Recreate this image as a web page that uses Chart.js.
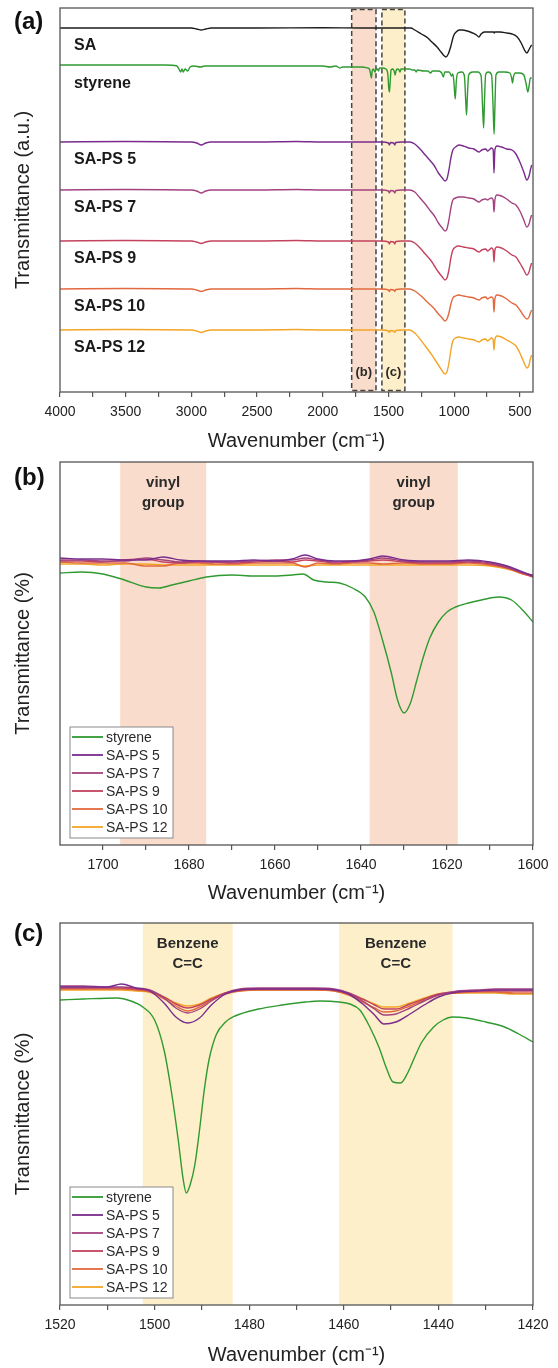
<!DOCTYPE html>
<html>
<head>
<meta charset="utf-8">
<script src="https://cdn.jsdelivr.net/npm/chart.js@4.4.1/dist/chart.umd.min.js"></script>
<style>
  html, body { margin: 0; padding: 0; background: #fff; }
  .panel { position: relative; width: 558px; height: 456px; }
</style>
</head>
<body>
<div class="panel"><canvas id="chartA"></canvas></div>
<div class="panel"><canvas id="chartB"></canvas></div>
<div class="panel"><canvas id="chartC"></canvas></div>
<script>
// ---- panel (a): full spectra, 4000-400 cm-1, values relative to each baseline ----
const namesA = ["SA", "styrene", "SA-PS 5", "SA-PS 7", "SA-PS 9", "SA-PS 10", "SA-PS 12"];
const offsetsA = [364, 326, 250, 202, 151, 103, 62];

const wnSA = [4000, 3500, 3000, 2960, 2925, 2890, 2850, 2500, 2000, 1700, 1500, 1400, 1330, 1300, 1250, 1200, 1170, 1130, 1100, 1075, 1063, 1045, 1025, 1005, 985, 960, 940, 900, 860, 830, 812, 795, 770, 740, 700, 695, 690, 650, 600, 560, 520, 490, 465, 447, 432, 420, 410];
const tSA = [0, 0, 0, -1, -2, -1, 0, 0, 0.3, 0, 0, 0, 0, -2, -6, -10, -14, -19, -24, -28, -29, -26, -18, -8, -4, -2, -2, -3, -5, -7, -9, -6, -4, -4, -4, -5, -4, -4, -5, -6, -9, -15, -22, -25, -22, -19, -17];

const wnSty = [4000, 3500, 3200, 3110, 3095, 3082, 3072, 3062, 3048, 3028, 3010, 2980, 2930, 2900, 2500, 2000, 1945, 1900, 1870, 1850, 1800, 1750, 1700, 1660, 1645, 1636, 1630, 1624, 1615, 1603, 1597, 1583, 1576, 1568, 1545, 1520, 1505, 1498, 1493, 1488, 1480, 1465, 1455, 1449, 1443, 1430, 1419, 1412, 1405, 1380, 1340, 1320, 1300, 1289, 1280, 1230, 1200, 1180, 1165, 1120, 1095, 1082, 1072, 1040, 1028, 1020, 1010, 1002, 992, 983, 972, 940, 922, 912, 906, 900, 890, 860, 820, 795, 784, 776, 770, 760, 740, 715, 704, 696, 690, 682, 660, 620, 575, 563, 556, 549, 535, 500, 470, 452, 440, 430, 420, 410];
const tSty = [1, 1, 1, 0, -3, -6, -3, -6, -3, -5, -1, 0, -1, 0, 0, 0, -1, 0, -2, -1, -1, -1, -1, -2, -3, -8, -12, -5, -3, -6, -4, -3, -5, -2, -2, -3, -8, -22, -26, -18, -4, -3, -6, -9, -5, -3, -4, -6, -3, -3, -3, -4, -4, -6, -4, -5, -5, -7, -5, -5, -7, -11, -6, -6, -8, -10, -8, -16, -33, -14, -7, -6, -10, -35, -49, -32, -9, -6, -6, -10, -40, -62, -38, -8, -6, -9, -40, -68, -42, -9, -6, -6, -7, -12, -17, -11, -7, -7, -9, -18, -26, -20, -12, -12];

const wnPSa = [4000, 3500, 3000, 2960, 2925, 2890, 2850, 2500, 2200, 2000, 1700, 1550, 1500, 1493, 1485, 1460, 1452, 1444, 1400, 1340, 1300, 1260, 1220, 1180, 1150, 1120, 1090, 1070, 1055, 1040, 1025, 1010, 990, 964, 930, 890, 850, 812, 790, 760, 745, 735, 715, 703, 697, 690, 675, 640, 600, 560, 530, 500, 470, 447, 430, 420, 410];
const ps5A = [0, 0.5, 0, -1, -3, -1, 0, 0, 0.5, 0, 0, 0, -1, -3, -0.5, -1, -3, -0.5, 0, 0, -2, -7, -13, -19, -24, -31, -36, -39, -37, -28, -16, -8, -5, -3, -4, -6, -7, -10, -8, -7, -9, -8, -6, -8, -31, -8, -4, -5, -7, -8, -12, -20, -30, -38, -34, -28, -23];
const ps7A = [0, 0.5, 0, -1, -3, -1, 0, 0, 0.5, 0, 0, 0, -1, -3, -0.5, -1, -3, -0.5, 0, 0, -2, -8, -14, -21, -26, -33, -38, -41, -39, -30, -18, -10, -8, -7, -7, -8, -9, -12, -10, -9, -10, -9, -8, -10, -22, -10, -5, -6, -9, -13, -15, -21, -30, -37, -34, -29, -25];
const ps9A = [0, 0.5, 0, -1, -2.5, -1, 0, 0, 0.5, 0, 0, 0, -1, -3, -0.5, -1, -3, -0.5, 0, 0, -2, -7, -13, -19, -25, -31, -36, -39, -37, -29, -17, -9, -6, -5, -6, -7, -8, -11, -9, -8, -10, -9, -7, -9, -21, -9, -6, -7, -10, -14, -16, -22, -29, -34, -31, -26, -22];
const ps10A = [0, 0.5, 0, -1, -2.5, -1, 0, 0, 0.5, 0, 0, 0, -1, -2.5, -0.5, -1, -2.5, -0.5, 0, 0, -2, -6, -11, -16, -20, -25, -29, -32, -30, -24, -15, -9, -7, -6, -7, -8, -9, -11, -9, -8, -10, -9, -8, -10, -23, -10, -6, -7, -10, -14, -16, -21, -27, -30, -28, -24, -21];
const ps12A = [0, 0.5, 0, -1, -2.5, -1, 0, 0, 0.5, 0, 0, 0, -1, -2.5, -0.5, -1, -2.5, -0.5, 0, 0, -3, -9, -16, -23, -29, -35, -41, -44, -42, -33, -20, -11, -8, -7, -8, -9, -10, -12, -10, -9, -11, -10, -8, -10, -20, -10, -6, -7, -10, -13, -16, -23, -32, -38, -35, -29, -25];

const ticksA = [4000, 3750, 3500, 3250, 3000, 2750, 2500, 2250, 2000, 1750, 1500, 1250, 1000, 750, 500];
const tickLabelsA = [4000, 3500, 3000, 2500, 2000, 1500, 1000, 500];
const zoomBoxesA = [[1780, 1595], [1550, 1375]];

// ---- panel (b): 1710-1600 cm-1 ----
const wnStyB = [1710, 1705, 1700, 1695, 1690, 1687, 1684, 1680, 1676, 1670, 1665, 1660, 1656, 1653.5, 1651, 1648, 1645, 1642, 1639, 1637, 1635, 1633, 1631.5, 1630, 1628.5, 1627, 1625.5, 1624, 1622, 1620, 1618, 1615, 1612, 1608, 1605, 1602, 1600];
const tStyB = [272, 273, 271, 265, 258, 257, 260, 264, 268, 270, 269, 269, 270, 271, 265, 263, 262, 257, 248, 233, 205, 173, 145, 132, 142, 165, 188, 207, 223, 233, 238, 242, 245, 248, 245, 233, 223];
const wnPSb = [1710, 1705, 1700, 1695, 1690, 1686, 1682, 1678, 1674, 1670, 1665, 1660, 1656, 1653, 1650, 1646, 1642, 1638, 1635, 1630, 1625, 1620, 1615, 1610, 1606, 1603, 1600];
const ps5B = [287, 286, 286, 285, 285, 288, 285, 284, 284, 284, 285, 284, 286, 290, 286, 284, 284, 286, 289, 285, 284, 284, 285, 283, 279, 274, 269];
const ps7B = [285, 285, 284, 284, 287, 285, 283, 284, 283, 283, 284, 285, 285, 287, 285, 283, 284, 285, 287, 284, 283, 283, 284, 282, 278, 273, 270];
const ps9B = [284, 284, 283, 285, 286, 283, 282, 283, 283, 282, 283, 284, 283, 285, 284, 282, 283, 284, 285, 283, 282, 282, 283, 281, 277, 273, 268];
const ps10B = [283, 282, 282, 282, 279, 279, 282, 282, 281, 281, 282, 282, 282, 278, 282, 281, 282, 282, 281, 282, 281, 281, 282, 280, 277, 272, 268];
const ps12B = [281, 281, 280, 281, 281, 280, 280, 280, 280, 280, 280, 280, 280, 279, 280, 280, 280, 280, 280, 280, 280, 280, 280, 279, 276, 272, 269];
const ticksB = [1700, 1690, 1680, 1670, 1660, 1650, 1640, 1630, 1620, 1610, 1600];
const tickLabelsB = [1700, 1680, 1660, 1640, 1620, 1600];
const bandsB = [[1696, 1676], [1638, 1617.5]];

// ---- panel (c): 1520-1420 cm-1 ----
const wnStyC = [1520, 1515, 1508, 1505, 1502.5, 1500, 1498, 1496.5, 1495, 1494, 1493.3, 1492.5, 1491.5, 1490.5, 1489.5, 1488.5, 1487, 1485, 1483, 1478, 1473, 1468, 1465, 1461, 1458.7, 1456.6, 1454.5, 1452.5, 1451, 1449.6, 1448, 1446.5, 1445, 1443.5, 1441, 1439, 1437, 1434, 1430, 1426, 1423, 1420];
const tStyC = [305, 306, 307, 304, 298, 285, 255, 215, 165, 127, 112, 120, 140, 175, 215, 245, 270, 283, 289, 296, 300, 303, 304, 303, 301, 295, 278, 257, 237, 223, 222, 232, 248, 263, 278, 285, 288, 287, 283, 278, 271, 263];
const wnPSc = [1520, 1515, 1510, 1507, 1504, 1501, 1498, 1495.5, 1493, 1490.5, 1488, 1485, 1482, 1478, 1472, 1466, 1462, 1459, 1456, 1453.5, 1451.5, 1449, 1446, 1443, 1440, 1436, 1432, 1428, 1424, 1420];
const ps5C = [318, 318, 318, 321, 317, 314, 302, 288, 282, 287, 300, 311, 315, 316, 316, 316, 315, 311, 301, 290, 281, 283, 291, 300, 308, 313, 314, 315, 315, 315];
const ps7C = [319, 319, 318, 318, 317, 315, 307, 297, 292, 296, 304, 312, 316, 317, 317, 317, 316, 312, 304, 296, 290, 291, 297, 304, 310, 314, 315, 316, 316, 316];
const ps9C = [317, 317, 317, 317, 316, 314, 308, 301, 297, 300, 306, 312, 315, 316, 316, 316, 315, 312, 306, 300, 296, 296, 301, 306, 311, 313, 314, 314, 314, 314];
const ps10C = [316, 316, 316, 316, 315, 313, 306, 299, 294, 298, 305, 311, 314, 315, 315, 315, 314, 310, 303, 297, 293, 294, 299, 305, 310, 312, 313, 313, 312, 312];
const ps12C = [315, 315, 315, 315, 314, 313, 308, 302, 299, 301, 307, 312, 314, 315, 315, 315, 314, 311, 306, 301, 298, 298, 302, 307, 311, 312, 312, 312, 311, 311];
const ticksC = [1520, 1510, 1500, 1490, 1480, 1470, 1460, 1450, 1440, 1430, 1420];
const tickLabelsC = [1520, 1500, 1480, 1460, 1440, 1420];
const bandsC = [[1502.5, 1483.5], [1461, 1437]];

const COLORS = {
  "SA": "#1c1c1c",
  "styrene": "#2f9a30",
  "SA-PS 5": "#7a2b8c",
  "SA-PS 7": "#a3427f",
  "SA-PS 9": "#c4425e",
  "SA-PS 10": "#e2693e",
  "SA-PS 12": "#f2a526",
};
const SALMON = "#f9dccb";
const CREAM = "#fdefca";
const FONT = "'Liberation Sans', Arial, Helvetica, sans-serif";

Chart.defaults.font.family = FONT;
Chart.defaults.color = "#222";

function pts(xs, ys, offset = 0) {
  return xs.map((x, i) => ({ x, y: ys[i] + offset }));
}

function line(label, data) {
  return {
    label,
    data,
    borderColor: COLORS[label],
    backgroundColor: COLORS[label],
    borderWidth: 1.4,
    pointRadius: 0,
    pointHoverRadius: 0,
    fill: false,
    cubicInterpolationMode: "monotone",
  };
}

function decorations(cfg) {
  return {
    id: "decorations",
    beforeDatasetsDraw(chart) {
      const { ctx, chartArea: a } = chart;
      const x = chart.scales.x;
      ctx.save();
      (cfg.bands || []).forEach((b) => {
        const x1 = x.getPixelForValue(b.from);
        const x2 = x.getPixelForValue(b.to);
        ctx.fillStyle = b.color;
        ctx.fillRect(Math.min(x1, x2), a.top, Math.abs(x2 - x1), a.bottom - a.top);
        if (b.dashed) {
          ctx.setLineDash([5, 3]);
          ctx.strokeStyle = "#444";
          ctx.lineWidth = 1.5;
          ctx.strokeRect(Math.min(x1, x2), a.top + 1.5, Math.abs(x2 - x1), a.bottom - a.top - 3);
          ctx.setLineDash([]);
        }
      });
      ctx.restore();
    },
    afterDatasetsDraw(chart) {
      const { ctx, chartArea: a } = chart;
      const x = chart.scales.x;
      const y = chart.scales.y;
      ctx.save();

      // frame
      ctx.strokeStyle = "#555";
      ctx.lineWidth = 1.3;
      ctx.strokeRect(a.left, a.top, a.right - a.left, a.bottom - a.top);

      // band texts
      ctx.fillStyle = "#2a2a2a";
      ctx.textAlign = "center";
      ctx.textBaseline = "middle";
      (cfg.bands || []).forEach((b) => {
        const cx = (x.getPixelForValue(b.from) + x.getPixelForValue(b.to)) / 2;
        ctx.font = `bold ${b.size}px ${FONT}`;
        b.text.forEach((t, i) => {
          const ty = b.atBottom ? a.bottom - 20 : a.top + 21 + i * 20;
          ctx.fillText(t, cx, ty);
        });
      });

      // series names next to the stacked traces
      if (cfg.seriesLabels) {
        ctx.textAlign = "left";
        ctx.font = `bold 16px ${FONT}`;
        ctx.fillStyle = "#1a1a1a";
        cfg.seriesLabels.forEach((name, i) => {
          ctx.fillText(name, a.left + 14, y.getPixelForValue(cfg.offsets[i]) + 18);
        });
      }

      // boxed legend, bottom left
      if (cfg.legend) {
        const sets = chart.data.datasets;
        const rowH = 18;
        const boxL = a.left + 10;
        const boxH = rowH * sets.length + 3;
        const boxT = a.bottom - 7 - boxH;
        ctx.fillStyle = "#fff";
        ctx.fillRect(boxL, boxT, 103, boxH);
        ctx.strokeStyle = "#8a8a8a";
        ctx.lineWidth = 1;
        ctx.strokeRect(boxL, boxT, 103, boxH);
        ctx.font = `14px ${FONT}`;
        ctx.textAlign = "left";
        sets.forEach((ds, i) => {
          const ry = boxT + 10 + i * rowH;
          ctx.strokeStyle = ds.borderColor;
          ctx.lineWidth = 1.8;
          ctx.beginPath();
          ctx.moveTo(boxL + 2, ry);
          ctx.lineTo(boxL + 33, ry);
          ctx.stroke();
          ctx.fillStyle = "#2a2a2a";
          ctx.fillText(ds.label, boxL + 36, ry + 1);
        });
      }

      // panel letter
      ctx.textAlign = "left";
      ctx.fillStyle = "#111";
      ctx.font = `bold 24px ${FONT}`;
      ctx.fillText(cfg.letter, 14, 22);
      ctx.restore();
    },
  };
}

function makePanel(cfg) {
  return new Chart(document.getElementById(cfg.id), {
    type: "line",
    data: { datasets: cfg.datasets },
    options: {
      responsive: true,
      maintainAspectRatio: false,
      animation: false,
      events: [],
      layout: { padding: { top: cfg.padTop, right: 25, bottom: 0, left: 0 } },
      plugins: { legend: { display: false }, tooltip: { enabled: false } },
      scales: {
        x: {
          type: "linear",
          reverse: true,
          min: cfg.xMin,
          max: cfg.xMax,
          border: { display: false },
          grid: {
            display: true,
            drawOnChartArea: false,
            drawTicks: true,
            tickLength: 5,
            color: "#555",
            lineWidth: 1.2,
          },
          ticks: {
            autoSkip: false,
            maxRotation: 0,
            padding: 7,
            color: "#222",
            font: { size: 14 },
            callback: (v) => (cfg.tickLabels.includes(v) ? String(v) : ""),
          },
          afterBuildTicks: (s) => {
            s.ticks = cfg.ticks.map((v) => ({ value: v }));
          },
          afterFit: (s) => {
            s.height = cfg.xHeight;
          },
          title: {
            display: true,
            text: "Wavenumber (cm\u207B\u00B9)",
            color: "#222",
            font: { size: 20 },
            padding: { top: 0, bottom: cfg.titlePad },
          },
        },
        y: {
          min: 0,
          max: cfg.yMax,
          border: { display: false },
          grid: { display: false },
          ticks: { display: false },
          afterFit: (s) => {
            s.width = 60;
          },
          title: {
            display: true,
            text: cfg.yTitle,
            color: "#222",
            font: { size: 20 },
            padding: { top: 11, bottom: 0 },
          },
        },
      },
    },
    plugins: [decorations(cfg)],
  });
}

makePanel({
  id: "chartA",
  letter: "(a)",
  padTop: 8,
  xHeight: 64,
  titlePad: 3,
  xMin: 400,
  xMax: 4000,
  yMax: 384,
  ticks: ticksA,
  tickLabels: tickLabelsA,
  yTitle: "Transmittance (a.u.)",
  datasets: [
    line("SA", pts(wnSA, tSA, offsetsA[0])),
    line("styrene", pts(wnSty, tSty, offsetsA[1])),
    line("SA-PS 5", pts(wnPSa, ps5A, offsetsA[2])),
    line("SA-PS 7", pts(wnPSa, ps7A, offsetsA[3])),
    line("SA-PS 9", pts(wnPSa, ps9A, offsetsA[4])),
    line("SA-PS 10", pts(wnPSa, ps10A, offsetsA[5])),
    line("SA-PS 12", pts(wnPSa, ps12A, offsetsA[6])),
  ],
  bands: [
    { from: zoomBoxesA[0][0], to: zoomBoxesA[0][1], color: SALMON, dashed: true, atBottom: true, size: 13, text: ["(b)"] },
    { from: zoomBoxesA[1][0], to: zoomBoxesA[1][1], color: CREAM, dashed: true, atBottom: true, size: 13, text: ["(c)"] },
  ],
  seriesLabels: namesA,
  offsets: offsetsA,
});

makePanel({
  id: "chartB",
  letter: "(b)",
  padTop: 6,
  xHeight: 67,
  titlePad: 7,
  xMin: 1600,
  xMax: 1710,
  yMax: 383,
  ticks: ticksB,
  tickLabels: tickLabelsB,
  yTitle: "Transmittance (%)",
  datasets: [
    line("styrene", pts(wnStyB, tStyB)),
    line("SA-PS 5", pts(wnPSb, ps5B)),
    line("SA-PS 7", pts(wnPSb, ps7B)),
    line("SA-PS 9", pts(wnPSb, ps9B)),
    line("SA-PS 10", pts(wnPSb, ps10B)),
    line("SA-PS 12", pts(wnPSb, ps12B)),
  ],
  bands: bandsB.map(([from, to]) => ({ from, to, color: SALMON, size: 15, text: ["vinyl", "group"] })),
  legend: true,
});

makePanel({
  id: "chartC",
  letter: "(c)",
  padTop: 11,
  xHeight: 63,
  titlePad: 1,
  xMin: 1420,
  xMax: 1520,
  yMax: 382,
  ticks: ticksC,
  tickLabels: tickLabelsC,
  yTitle: "Transmittance (%)",
  datasets: [
    line("styrene", pts(wnStyC, tStyC)),
    line("SA-PS 5", pts(wnPSc, ps5C)),
    line("SA-PS 7", pts(wnPSc, ps7C)),
    line("SA-PS 9", pts(wnPSc, ps9C)),
    line("SA-PS 10", pts(wnPSc, ps10C)),
    line("SA-PS 12", pts(wnPSc, ps12C)),
  ],
  bands: bandsC.map(([from, to]) => ({ from, to, color: CREAM, size: 15, text: ["Benzene", "C=C"] })),
  legend: true,
});
</script>
</body>
</html>
